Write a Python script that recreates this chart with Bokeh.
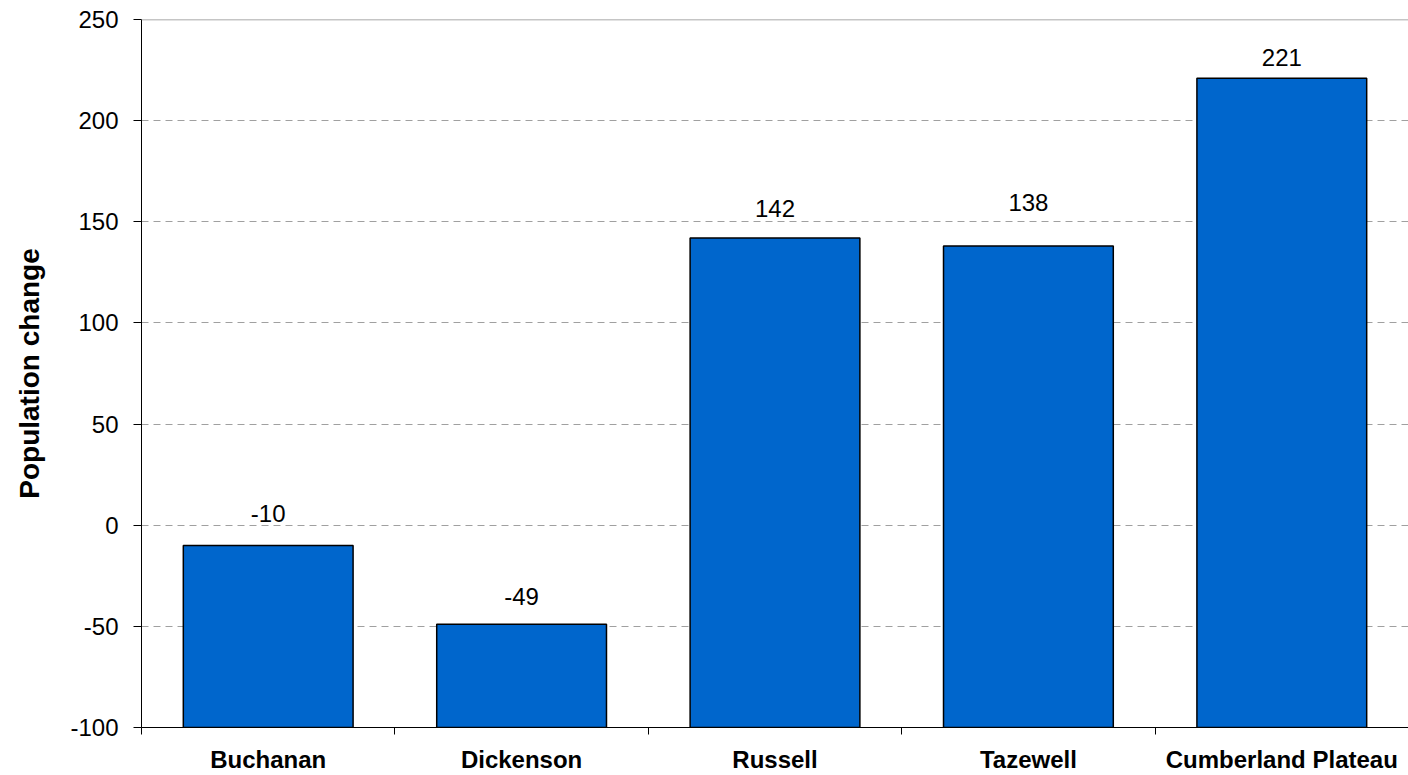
from bokeh.plotting import figure
from bokeh.models import Range1d, FixedTicker, Span, ColumnDataSource
from bokeh.core.properties import value
from bokeh.embed import file_html
from bokeh.resources import INLINE

# Data
counties = ["Buchanan", "Dickenson", "Russell", "Tazewell", "Cumberland Plateau"]
pop_change = [-10, -49, 142, 138, 221]
y_ticks = [-100, -50, 0, 50, 100, 150, 200, 250]

# styling (pixel offsets of value labels above bar tops)
label_offsets = [-32, -28, -29, -44, -21]

FONT = "Liberation Sans"
centers = [i + 0.5 for i in range(len(counties))]

p = figure(width=1408, height=775, output_backend="svg", toolbar_location=None,
           x_range=Range1d(0, len(counties)), y_range=Range1d(-100, 250),
           min_border_left=141, min_border_right=0, min_border_top=19, min_border_bottom=48)
p.outline_line_color = None
p.background_fill_color = "white"
p.border_fill_color = "white"

src = ColumnDataSource(dict(x=centers, top=pop_change,
                            lab=[str(v) for v in pop_change], off=label_offsets))

p.vbar(x="x", top="top", bottom=-100, width=0.67, source=src,
       fill_color="#0066CC", line_color="black", line_width=1.5)

p.text(x="x", y="top", text="lab", y_offset="off", source=src,
       text_align="center", text_baseline="middle",
       text_font=value(FONT), text_font_size="24px", text_color="black")

# top border
p.add_layout(Span(location=250, dimension="width", line_color="#8c8c8c", line_width=1.5))

# y axis
p.yaxis.ticker = FixedTicker(ticks=y_ticks)
p.yaxis.major_label_overrides = {t: str(t) for t in y_ticks}
p.yaxis.major_label_text_font = FONT
p.yaxis.major_label_text_font_size = "24px"
p.yaxis.major_label_text_color = "black"
p.yaxis.major_tick_out = 8
p.yaxis.major_tick_in = 0
p.yaxis.minor_tick_line_color = None
p.yaxis.major_label_standoff = 15
p.yaxis.axis_line_color = "black"
p.yaxis.axis_label = "Population change"
p.yaxis.axis_label_text_font = FONT
p.yaxis.axis_label_text_font_size = "28px"
p.yaxis.axis_label_text_font_style = "bold"
p.yaxis.axis_label_text_color = "black"
p.yaxis.axis_label_standoff = 22

# x axis
p.xaxis.ticker = FixedTicker(ticks=centers, minor_ticks=list(range(len(counties) + 1)))
p.xaxis.major_label_overrides = {c: n for c, n in zip(centers, counties)}
p.xaxis.major_tick_line_color = None
p.xaxis.major_tick_out = 7
p.xaxis.minor_tick_out = 7
p.xaxis.minor_tick_in = 0
p.xaxis.minor_tick_line_color = "black"
p.xaxis.major_label_standoff = 11
p.xaxis.major_label_text_font = FONT
p.xaxis.major_label_text_font_size = "24px"
p.xaxis.major_label_text_font_style = "bold"
p.xaxis.major_label_text_color = "black"
p.xaxis.axis_line_color = "black"

# grid
p.xgrid.grid_line_color = None
p.ygrid.ticker = FixedTicker(ticks=[-50, 0, 50, 100, 150, 200])
p.ygrid.grid_line_color = "#a0a0a0"
p.ygrid.grid_line_dash = "7 5"
p.ygrid.grid_line_width = 1

open("out.html", "w").write(file_html(p, INLINE))
